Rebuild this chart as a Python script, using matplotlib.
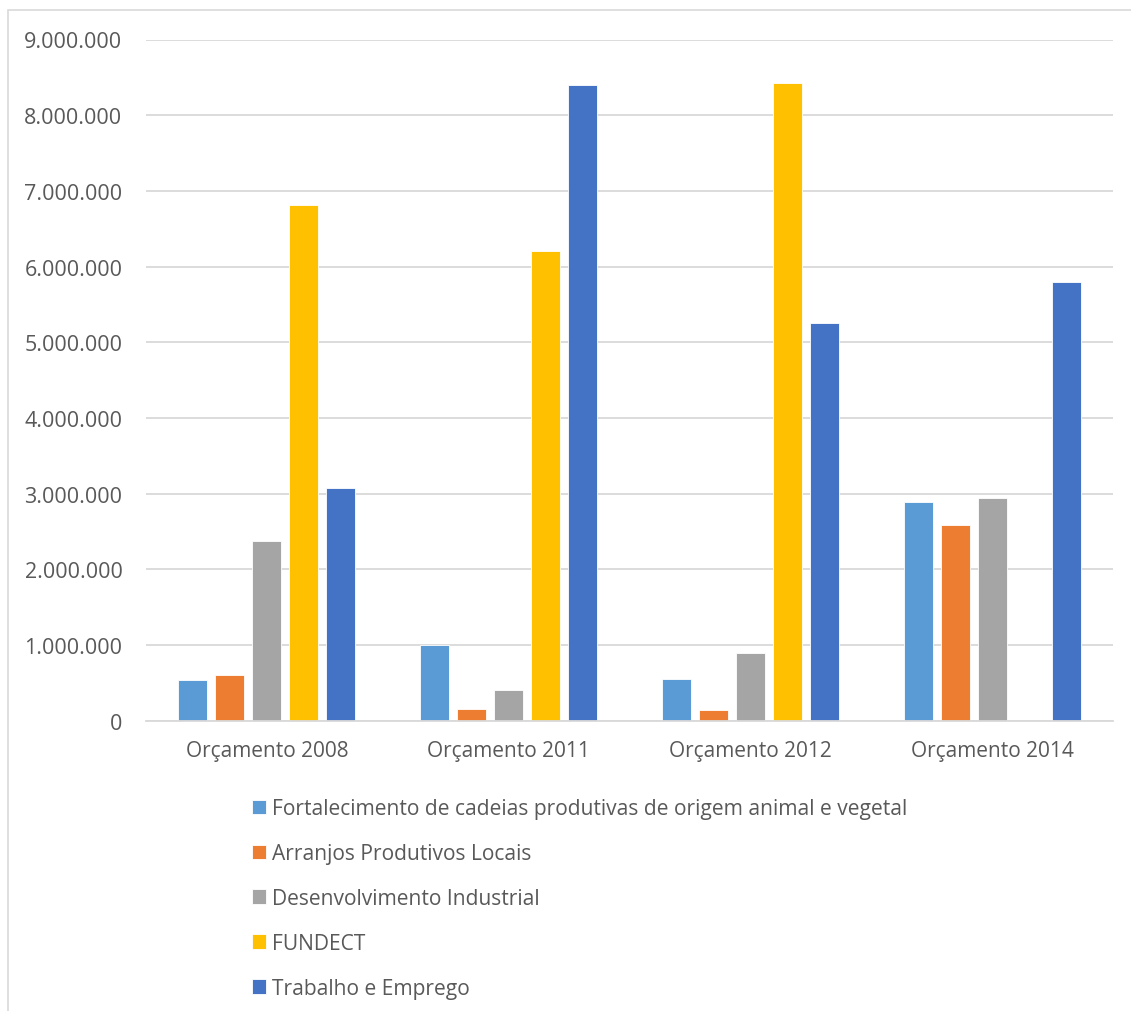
import matplotlib
matplotlib.use("Agg")
import matplotlib.pyplot as plt
from matplotlib.ticker import FuncFormatter, MultipleLocator
from matplotlib.patches import Rectangle
import numpy as np

categories = ["Orçamento 2008", "Orçamento 2011", "Orçamento 2012", "Orçamento 2014"]
series_names = [
    "Fortalecimento de cadeias produtivas de origem animal e vegetal",
    "Arranjos Produtivos Locais",
    "Desenvolvimento Industrial",
    "FUNDECT",
    "Trabalho e Emprego",
]
fortalecimento = [540000, 1000000, 550000, 2890000]
arranjos = [600000, 160000, 140000, 2590000]
desenvolvimento = [2380000, 410000, 900000, 2940000]
fundect = [6820000, 6200000, 8430000, 0]
trabalho = [3070000, 8400000, 5250000, 5800000]

series_values = [fortalecimento, arranjos, desenvolvimento, fundect, trabalho]
colors = ["#5B9BD5", "#ED7D31", "#A5A5A5", "#FFC000", "#4472C4"]

plt.rcParams['font.family'] = ['Open Sans', 'DejaVu Sans']
text_color = "#595959"
grid_color = "#D9D9D9"
fs_tick = 15.5
fs_leg = 15.1

fig = plt.figure(figsize=(11.31, 10.12), dpi=100)
fig.patches.append(Rectangle((8/1131, -0.01), 1.1, 1 - 11/1012 + 0.01,
                             transform=fig.transFigure, fill=False,
                             edgecolor=grid_color, linewidth=1.2))

ax = fig.add_axes([146/1131, 1 - 721.7/1012, (1113 - 146)/1131, (721.7 - 40.5)/1012])

x = np.arange(len(categories))
slot = 37 / 242
width = 29 / 242
for i, (name, vals, c) in enumerate(zip(series_names, series_values, colors)):
    offs = (i - 2) * slot
    ax.bar(x + offs, vals, width=width, color=c, label=name, zorder=3,
           edgecolor="white", linewidth=0.6)

ax.set_xlim(-0.5, 3.5)
ax.set_ylim(0, 9000000)
ax.yaxis.set_major_locator(MultipleLocator(1000000))
ax.yaxis.set_major_formatter(FuncFormatter(lambda v, p: f"{int(round(v)):,}".replace(",", ".")))
ax.grid(axis="y", color=grid_color, linewidth=1.3, zorder=0)
for s in ["top", "right", "left"]:
    ax.spines[s].set_visible(False)
ax.spines["bottom"].set_color(grid_color)
ax.spines["bottom"].set_linewidth(1.3)
ax.spines["bottom"].set_zorder(4)
ax.set_xticks(x)
ax.set_xticklabels(categories)
ax.tick_params(axis="both", length=0, labelcolor=text_color)
ax.tick_params(axis="y", pad=17, labelsize=fs_tick)
ax.tick_params(axis="x", pad=14, labelsize=15)

leg = ax.legend(loc="upper left", bbox_to_anchor=(252/1131, 1 - 799.1/1012),
                bbox_transform=fig.transFigure, frameon=False, ncol=1,
                fontsize=fs_leg, handlelength=0.67, handleheight=0.67,
                handletextpad=0.3, labelspacing=1.14, borderaxespad=0,
                borderpad=0)
for t in leg.get_texts():
    t.set_color(text_color)

fig.savefig("out.png", dpi=100, facecolor="white")
